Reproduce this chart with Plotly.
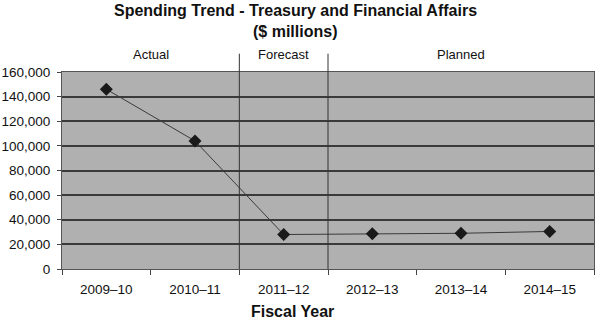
import plotly.graph_objects as go

# Spending by fiscal year ($ millions)
fiscal_years = ["2009–10", "2010–11", "2011–12", "2012–13", "2013–14", "2014–15"]
spending = [146000, 104000, 28000, 28600, 29000, 30500]

# Period groupings shown above the plot
periods = ["Actual", "Forecast", "Planned"]
period_spans = [(0, 1), (2, 2), (3, 5)]

FONT = "Liberation Sans, Arial, sans-serif"
GRID = "#3a3a3a"

fig = go.Figure()
fig.add_trace(go.Scatter(
    x=list(range(len(fiscal_years))),
    y=spending,
    mode="lines+markers",
    line=dict(color="#3a3a3a", width=1),
    marker=dict(symbol="diamond", size=10, color="#1a1a1a"),
    showlegend=False,
))

# Vertical separators between the period groups, extending above the plot
for lo, hi in period_spans[:-1]:
    fig.add_shape(type="line", xref="x", yref="paper",
                  x0=hi + 0.5, x1=hi + 0.5, y0=0, y1=1.093,
                  line=dict(color="#333333", width=1))

for name, (lo, hi) in zip(periods, period_spans):
    fig.add_annotation(x=(lo + hi) / 2, xref="x", y=1.087, yref="paper",
                       text=name, showarrow=False, yanchor="middle",
                       font=dict(family=FONT, size=13, color="#111111"))

# Two-line title and x-axis caption
title_lines = ["Spending Trend - Treasury and Financial Affairs", "($ millions)"]
for i, line in enumerate(title_lines):
    fig.add_annotation(x=(295 - 62) / 532, xref="paper",
                       y=(269.3 - (10.5 + 21 * i)) / 197, yref="paper",
                       text=f"<b>{line}</b>", showarrow=False, yanchor="middle",
                       font=dict(family=FONT, size=16, color="#111111"))

fig.add_annotation(x=(292 - 62) / 532, xref="paper", y=(269.3 - 312) / 197, yref="paper",
                   text="<b>Fiscal Year</b>", showarrow=False, yanchor="middle",
                   font=dict(family=FONT, size=16, color="#111111"))

fig.update_layout(
    width=595, height=330,
    margin=dict(l=62, r=1, t=72, b=61),
    paper_bgcolor="white",
    plot_bgcolor="#b0b0b0",
    font=dict(family=FONT, size=13.5, color="#111111"),
    xaxis=dict(
        range=[-0.5, 5.5],
        tickmode="array",
        tickvals=list(range(len(fiscal_years))),
        ticktext=fiscal_years,
        showgrid=False,
        zeroline=False,
        showline=True, linecolor="#555555", linewidth=1, mirror=True,
        ticks="", ticklabelstandoff=8,
        minor=dict(tickmode="array", tickvals=[i - 0.5 for i in range(len(fiscal_years) + 1)],
                   ticks="outside", ticklen=5, tickcolor="#444444", showgrid=False),
        fixedrange=True,
    ),
    yaxis=dict(
        range=[0, 160000],
        dtick=20000,
        tickformat=",",
        showgrid=True, gridcolor=GRID, gridwidth=1.5,
        zeroline=False,
        showline=True, linecolor="#555555", linewidth=1, mirror=True,
        ticks="outside", ticklen=4, tickcolor="#444444",
        ticklabelstandoff=4,
        fixedrange=True,
    ),
)

fig.write_html("out.html")
